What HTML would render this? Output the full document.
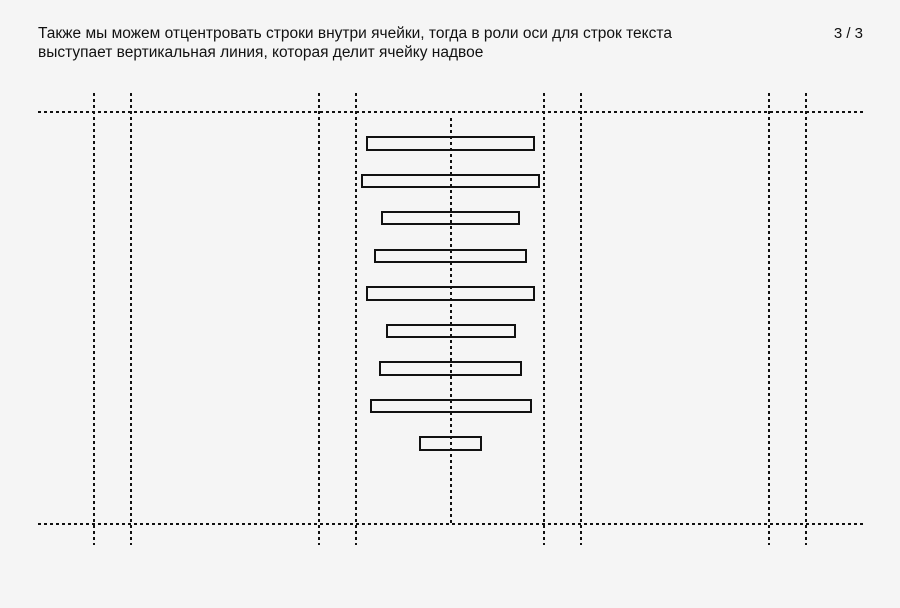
<!DOCTYPE html>
<html><head><meta charset="utf-8"><style>
body{margin:0;width:900px;height:608px;background:#f5f5f5;overflow:hidden;position:relative;font-family:"Liberation Sans",sans-serif;}
.t{position:absolute;left:38px;top:24px;font-size:15.5px;line-height:19px;color:#111;white-space:nowrap;}
.p{position:absolute;right:37px;top:24px;font-size:15px;line-height:19px;color:#111;}
</style></head><body>
<div class="t">Также мы можем отцентровать строки внутри ячейки, тогда в роли оси для строк текста<br>выступает вертикальная линия, которая делит ячейку надвое</div>
<div class="p">3 / 3</div>
<svg width="900" height="608" style="position:absolute;left:0;top:0">
<g stroke="#111" stroke-width="2" stroke-dasharray="3 3" fill="none">
<line x1="38" y1="112" x2="864" y2="112"/>
<line x1="38" y1="524" x2="864" y2="524"/>
<line x1="94" y1="93" x2="94" y2="545"/>
<line x1="131" y1="93" x2="131" y2="545"/>
<line x1="319" y1="93" x2="319" y2="545"/>
<line x1="356" y1="93" x2="356" y2="545"/>
<line x1="544" y1="93" x2="544" y2="545"/>
<line x1="581" y1="93" x2="581" y2="545"/>
<line x1="769" y1="93" x2="769" y2="545"/>
<line x1="806" y1="93" x2="806" y2="545"/>
<line x1="451" y1="118" x2="451" y2="524"/>
</g>
<g stroke="#111" stroke-width="2" fill="none">
<rect x="367" y="137" width="167" height="13"/>
<rect x="362" y="175" width="177" height="12"/>
<rect x="382" y="212" width="137" height="12"/>
<rect x="375" y="250" width="151" height="12"/>
<rect x="367" y="287" width="167" height="13"/>
<rect x="387" y="325" width="128" height="12"/>
<rect x="380" y="362" width="141" height="13"/>
<rect x="371" y="400" width="160" height="12"/>
<rect x="420" y="437" width="61" height="13"/>
</g>
</svg>
</body></html>
